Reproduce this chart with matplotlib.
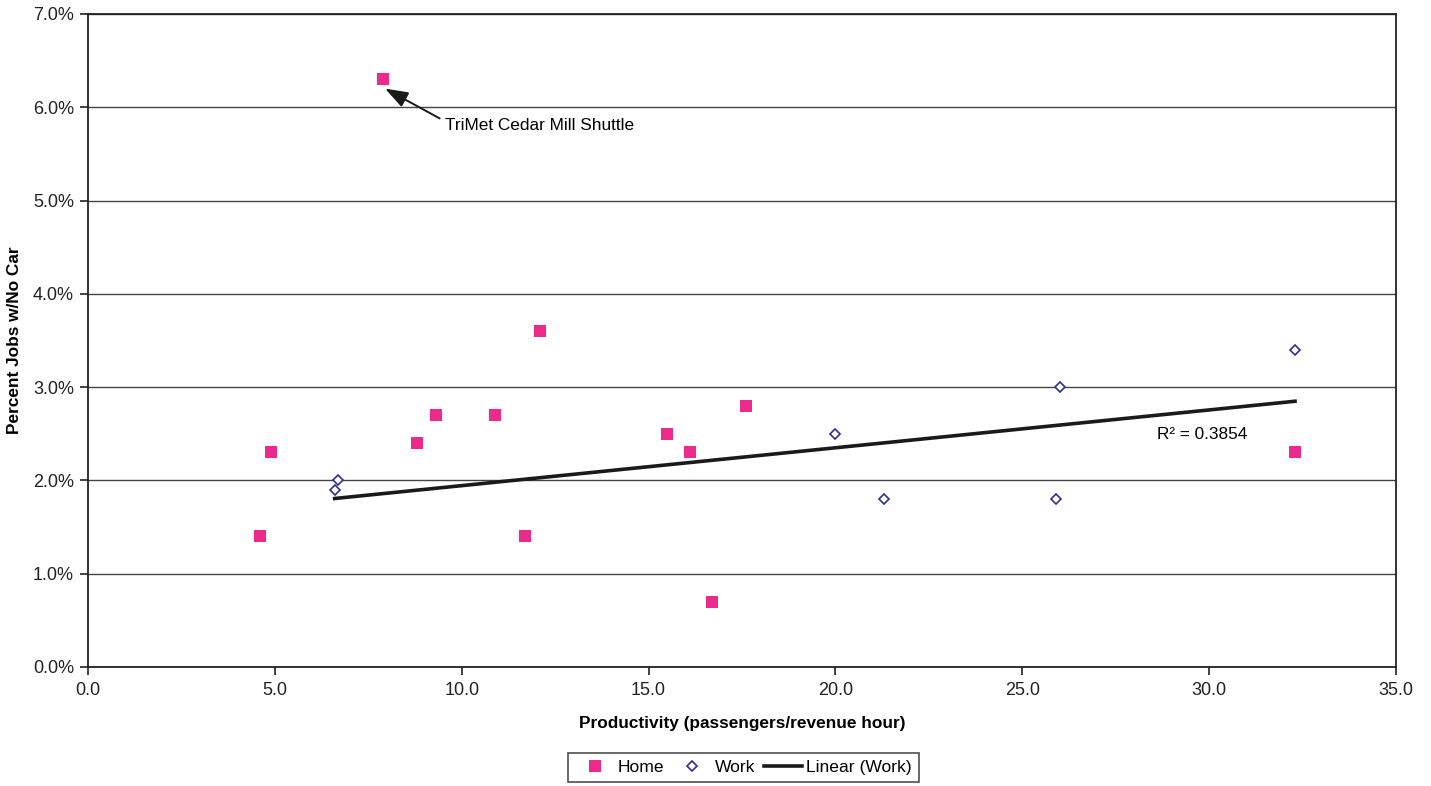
import matplotlib
matplotlib.use('Agg')
import matplotlib.pyplot as plt
from matplotlib.ticker import FuncFormatter
import numpy as np

plt.rcParams.update({
    'font.family': ['Liberation Sans', 'DejaVu Sans'],
    'font.size': 12.4,
})

# data (x = passengers/revenue hour, y = percent)
home_x = [4.6, 4.9, 7.9, 8.8, 9.3, 10.9, 11.7, 12.1, 15.5, 16.1, 16.7, 17.6, 32.3]
home_y = [1.4, 2.3, 6.3, 2.4, 2.7, 2.7, 1.4, 3.6, 2.5, 2.3, 0.7, 2.8, 2.3]
work_x = [6.6, 6.7, 20.0, 21.3, 26.0, 25.9, 32.3]
work_y = [1.9, 2.0, 2.5, 1.8, 3.0, 1.8, 3.4]

fig = plt.figure(figsize=(14.31, 7.86), dpi=100)
ax = fig.add_axes([0.0615, 0.1514, 0.914, 0.8308])

ax.plot(home_x, home_y, 's', color='#EC2A8C', markersize=8,
        markeredgewidth=0, label='Home', zorder=3)
ax.plot(work_x, work_y, 'D', markerfacecolor='white', markeredgecolor='#2E2E96',
        markersize=5.5, markeredgewidth=1.2, label='Work', zorder=3)

# linear trend through the work points
slope, icpt = np.polyfit(work_x, work_y, 1)
tx = np.array([min(work_x), max(work_x)])
ax.plot(tx, slope * tx + icpt, color='#1a1a1a', linewidth=2.6,
        label='Linear (Work)', zorder=2)
ax.text(28.6, 2.49, 'R² = 0.3854', fontsize=12.4, va='center', ha='left')

ax.annotate('TriMet Cedar Mill Shuttle', xy=(7.95, 6.2), xytext=(9.55, 5.81),
            fontsize=12.4, va='center', ha='left',
            arrowprops=dict(arrowstyle='-|>,head_length=0.7,head_width=0.25',
                            color='#1a1a1a', lw=1.4, relpos=(0, 0.75),
                            mutation_scale=20, shrinkA=2, shrinkB=0))

ax.set_xlim(0, 35)
ax.set_ylim(0, 7)
ax.set_xticks(np.arange(0, 36, 5))
ax.set_yticks(np.arange(0, 7.5, 1))
ax.xaxis.set_major_formatter(FuncFormatter(lambda v, p: f'{v:.1f}'))
ax.yaxis.set_major_formatter(FuncFormatter(lambda v, p: f'{v:.1f}%'))
ax.tick_params(direction='out', length=6, width=1.2, colors='#222222',
               labelcolor='#222222', labelsize=13)
ax.tick_params(axis='x', pad=5)
ax.tick_params(axis='y', pad=4)
ax.yaxis.grid(True, color='#444444', linewidth=1.0)
ax.set_axisbelow(True)
for s in ax.spines.values():
    s.set_color('#222222')
    s.set_linewidth(1.3)

ax.set_xlabel('Productivity (passengers/revenue hour)', fontweight='bold',
              fontsize=12.4, labelpad=12)
ax.set_ylabel('Percent Jobs w/No Car', fontweight='bold', fontsize=12.4,
              labelpad=8)

leg = fig.legend(loc='center', bbox_to_anchor=(0.5195, 0.0235), ncol=3,
                 frameon=True, fancybox=False, edgecolor='#222222',
                 fontsize=12.6, handlelength=2.2, columnspacing=0.5,
                 handletextpad=0.2, borderpad=0.4)
leg.get_frame().set_linewidth(1.2)

fig.savefig('out.png', dpi=100)
